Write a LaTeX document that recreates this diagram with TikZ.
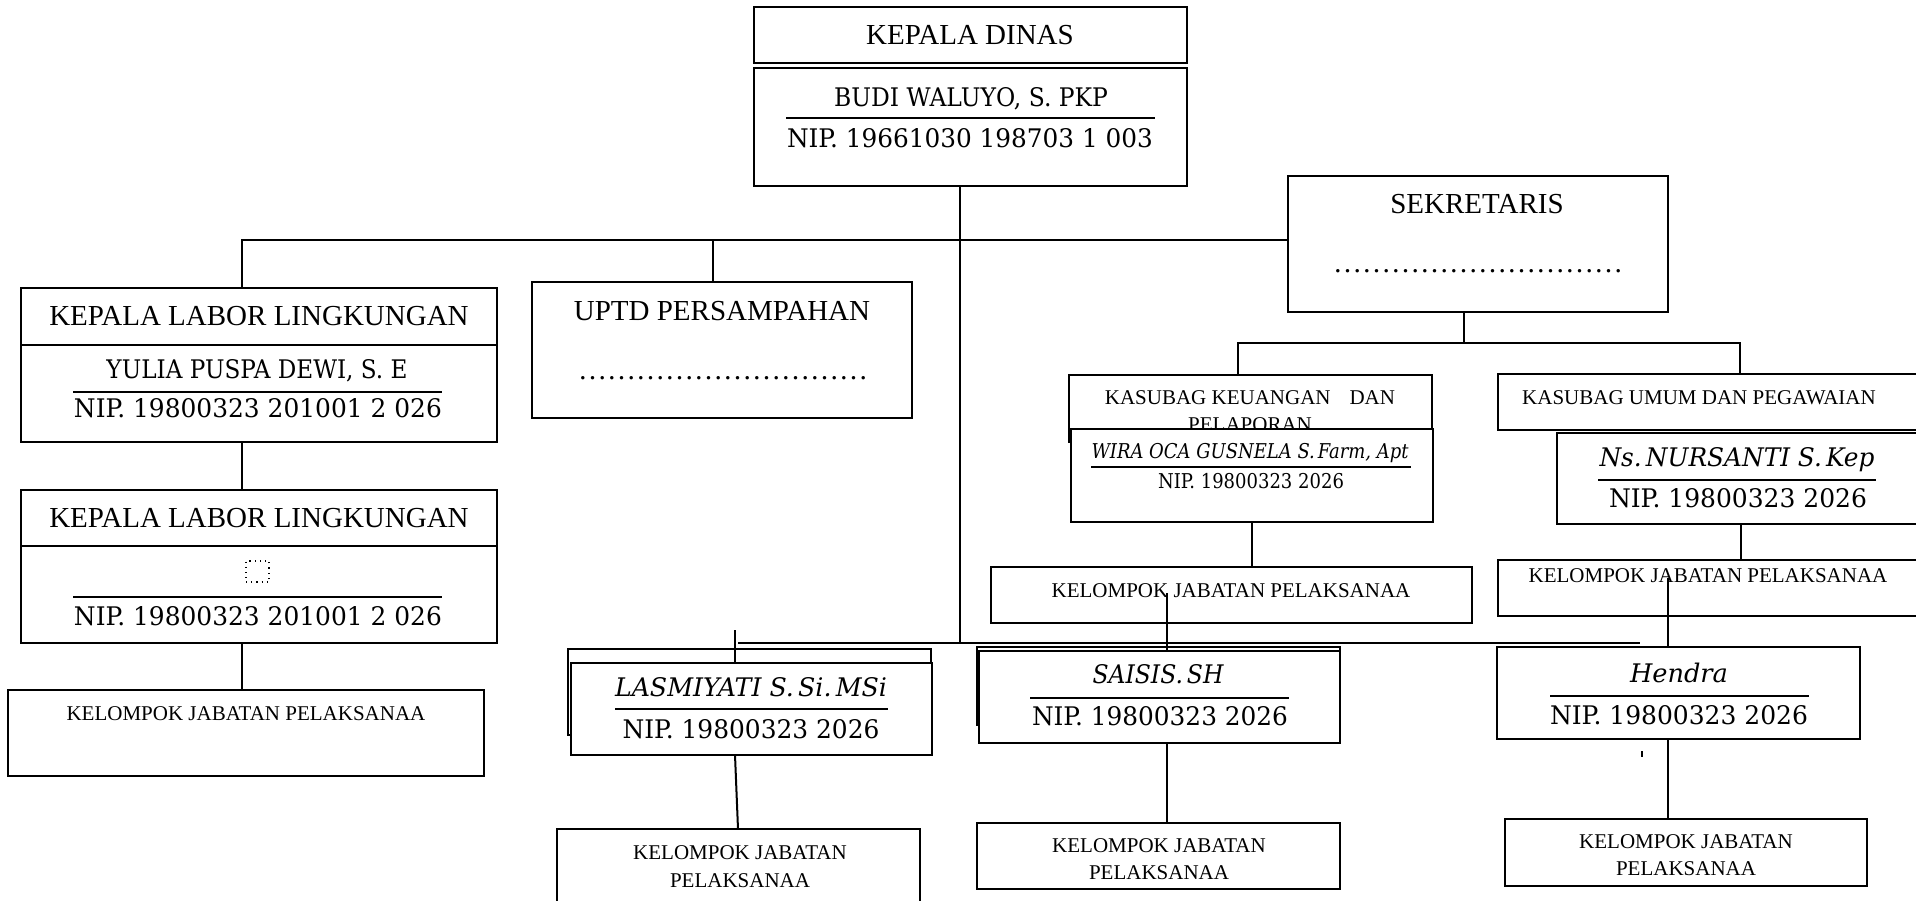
\documentclass[tikz,border=0pt]{standalone}
\usepackage{fontspec}
\usepackage{graphicx}
\newfontfamily\tnr{Liberation Serif}
\newfontfamily\cam{DejaVu Serif}
\usetikzlibrary{calc}
\newcommand\fw[2]{\resizebox{#1}{\height}{#2}}
\newcommand\mybox[5]{\node[boxst, minimum width={(#4-#2)*0.5pt}, minimum height={(#5-#3)*0.5pt}, anchor=north west] (#1) at (#2,#3) {};}
\begin{document}
\begin{tikzpicture}[x=0.5pt,y=-0.5pt,
 boxst/.style={draw, fill=white, line width=0.7pt, inner sep=0pt, outer sep=0pt},
 conn/.style={line width=1pt},
 rulest/.style={line width=1pt},
 big/.style={font=\tnr\fontsize{14.5}{17}\selectfont, inner sep=0pt, anchor=base},
 small/.style={font=\tnr\fontsize{10.5}{12}\selectfont, inner sep=0pt, anchor=base},
 mth/.style={font=\cam\fontsize{12.8}{15}\selectfont, inner sep=0pt, anchor=base},
 mthi/.style={font=\cam\itshape\fontsize{12.8}{15}\selectfont, inner sep=0pt, anchor=base},
 mths/.style={font=\cam\fontsize{10.2}{12}\selectfont, inner sep=0pt, anchor=base},
 mthsi/.style={font=\cam\itshape\fontsize{10.2}{12}\selectfont, inner sep=0pt, anchor=base},
]
\useasboundingbox[fill=white] (0,0) rectangle (1916,900);

% Kepala Dinas
\mybox{kd1}{754}{7}{1187}{63}
\mybox{kd2}{754}{68}{1187}{186}
\node[big] (tkd) at (970,44) {KEPALA DINAS};
\node[mth] (tbudi) at (971,106) {\fw{137pt}{BUDI WALUYO, S. PKP}};
\draw[rulest] (786,118) -- (1155,118);
\node[mth] (tnip0) at (970,147) {\fw{183pt}{NIP. 19661030 198703 1 003}};

% Sekretaris
\mybox{sek}{1288}{176}{1668}{312}
\node[big] (tsek) at (1477,213) {SEKRETARIS};
\node[big] (dsek) at (1478,272) {\fw{145pt}{…………………………}};

% Kepala Labor 1
\mybox{kla}{21}{288}{497}{345}
\mybox{klb}{21}{345}{497}{442}
\node[big] (tkla) at (259,325) {KEPALA LABOR LINGKUNGAN};
\node[mth] (tyul) at (257,378) {\fw{150.5pt}{YULIA PUSPA DEWI, S. E}};
\draw[rulest] (73,392) -- (442,392);
\node[mth] (tnip1) at (258,417) {\fw{184pt}{NIP. 19800323 201001 2 026}};

% Kepala Labor 2
\mybox{kl2a}{21}{490}{497}{546}
\mybox{kl2b}{21}{546}{497}{643}
\node[big] (tkl2) at (259,527) {KEPALA LABOR LINGKUNGAN};
\node[draw, dotted, line width=0.6pt, minimum width=11.5pt, minimum height=10.5pt, inner sep=0pt] (ph) at (257.5,571.5) {};
\draw[rulest] (73,597) -- (442,597);
\node[mth] (tnip2) at (258,625) {\fw{184pt}{NIP. 19800323 201001 2 026}};

% Kelompok left
\mybox{kelL}{8}{690}{484}{776}
\node[small] (tkelL) at (246,720) {KELOMPOK JABATAN PELAKSANAA};

% UPTD
\mybox{uptd}{532}{282}{912}{418}
\node[big] (tuptd) at (722,320) {UPTD PERSAMPAHAN};
\node[big] (duptd) at (723,379) {\fw{145pt}{…………………………}};

% Kasubag Keuangan
\mybox{keu}{1069}{375}{1432}{442}
\node[small] (tkeu1) at (1250,404) {KASUBAG KEUANGAN\hspace{9.5pt}DAN};
\node[small] (tkeu2) at (1250,431) {PELAPORAN};
\mybox{wira}{1071}{429}{1433}{522}
\node[mthsi] (twira) at (1250,458) {\fw{158.5pt}{WIRA OCA GUSNELA S.\,Farm, Apt}};
\draw[rulest] (1091,467) -- (1411,467);
\node[mths] (tnip3) at (1251,488) {\fw{93pt}{NIP. 19800323 2026}};
\mybox{kelM}{991}{567}{1472}{623}
\node[small] (tkelM) at (1231,597) {KELOMPOK JABATAN PELAKSANAA};

% Kasubag Umum
\mybox{umum}{1498}{374}{1935}{430}
\node[small] (tumum) at (1699,404) {KASUBAG UMUM DAN PEGAWAIAN};
\mybox{nur}{1557}{433}{1935}{524}
\node[mthi] (tnur) at (1737,466) {\fw{137.5pt}{Ns.\,NURSANTI S.\,Kep}};
\draw[rulest] (1598,480) -- (1876,480);
\node[mth] (tnip4) at (1738,507) {\fw{129pt}{NIP. 19800323 2026}};
\mybox{kelR}{1498}{560}{1935}{616}
\node[small] (tkelR) at (1708,582) {KELOMPOK JABATAN PELAKSANAA};

% Lasmiyati
\mybox{lasB}{568}{649}{931}{735}
\mybox{lasF}{571}{663}{932}{755}
\node[mthi] (tlas) at (751,696) {\fw{136pt}{LASMIYATI S.\,Si.\,MSi}};
\draw[rulest] (615,709) -- (888,709);
\node[mth] (tnip5) at (751,738) {\fw{128.5pt}{NIP. 19800323 2026}};
\mybox{kelBL}{557}{829}{920}{915}
\node[small] (tbl1) at (740,859) {KELOMPOK JABATAN};
\node[small] (tbl2) at (740,887) {PELAKSANAA};

% Saisis
\mybox{saiB}{977}{647}{1340}{725}
\mybox{saiF}{979}{651}{1340}{743}
\node[mthi] (tsai) at (1158,683) {\fw{65.5pt}{SAISIS.\,SH}};
\draw[rulest] (1030,698) -- (1289,698);
\node[mth] (tnip6) at (1160,725) {\fw{128pt}{NIP. 19800323 2026}};
\mybox{kelBM}{977}{823}{1340}{889}
\node[small] (tbm1) at (1159,852) {KELOMPOK JABATAN};
\node[small] (tbm2) at (1159,879) {PELAKSANAA};

% Hendra
\mybox{hen}{1497}{647}{1860}{739}
\node[mthi] (then) at (1679,682) {\fw{49pt}{Hendra}};
\draw[rulest] (1550,696) -- (1809,696);
\node[mth] (tnip7) at (1679,724) {\fw{129pt}{NIP. 19800323 2026}};
\mybox{kelBR}{1505}{819}{1867}{886}
\node[small] (tbr1) at (1686,848) {KELOMPOK JABATAN};
\node[small] (tbr2) at (1686,875) {PELAKSANAA};
\draw[line width=1pt] (1642,751) -- (1642,757);

% Connectors
\coordinate (t1) at (960,643);
\coordinate (b1) at (242,240);
\coordinate (u1) at (713,240);
\coordinate (s1) at (1464,343);
\coordinate (s2) at (1238,343);
\coordinate (s3) at (1740,343);
\coordinate (w1) at (1252,522);
\coordinate (n1) at (1741,524);
\coordinate (h1) at (738,643);
\coordinate (h2) at (1640,643);
\coordinate (m1) at (1167,593);
\coordinate (r1) at (1668,578);
\coordinate (l1) at (735,630);

\draw[conn] (t1 |- kd2.south) -- (t1);
\draw[conn] (b1 |- kla.north) -- (b1) -- (b1 -| sek.west);
\draw[conn] (u1) -- (u1 |- uptd.north);
\draw[conn] (b1 |- klb.south) -- (b1 |- kl2a.north);
\draw[conn] (b1 |- kl2b.south) -- (b1 |- kelL.north);
\draw[conn] (s1 |- sek.south) -- (s1);
\draw[conn] (s2 |- keu.north) -- (s2) -- (s3) -- (s3 |- umum.north);
\draw[conn] (w1 |- wira.south) -- (w1 |- kelM.north);
\draw[conn] (n1 |- nur.south) -- (n1 |- kelR.north);
\draw[conn] (h1) -- (h2);
\draw[conn] (m1) -- (m1 |- saiF.north);
\draw[conn] (r1) -- (r1 |- hen.north);
\draw[conn] (l1) -- (l1 |- lasF.north);
\draw[conn] (lasF.south -| l1) -- (kelBL.north -| h1);
\draw[conn] (saiF.south -| m1) -- (kelBM.north -| m1);
\draw[conn] (hen.south -| r1) -- (kelBR.north -| r1);
\end{tikzpicture}
\end{document}
